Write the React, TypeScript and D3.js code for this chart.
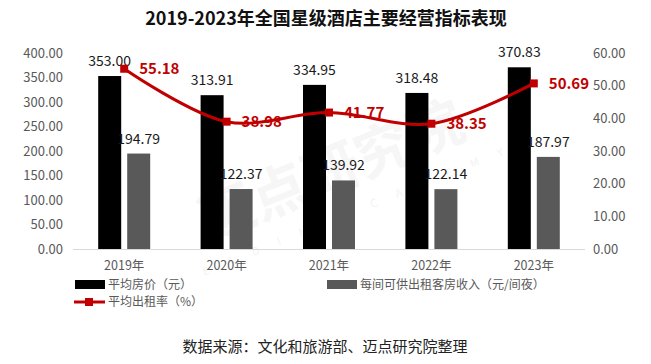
import React from 'react';
import * as d3 from 'd3';

// chart data
const years = ['2019年', '2020年', '2021年', '2022年', '2023年'];
const avgPrice = [353.0, 313.91, 334.95, 318.48, 370.83];
const revPar = [194.79, 122.37, 139.92, 122.14, 187.97];
const occupancy = [55.18, 38.98, 41.77, 38.35, 50.69];
const leftTicks = [0, 50, 100, 150, 200, 250, 300, 350, 400];
const rightTicks = [0, 10, 20, 30, 40, 50, 60];

const width = 651;
const height = 364;
const font = '"Noto Sans CJK SC", "Noto Sans", sans-serif';
const red = '#C00000';
const axisGray = '#595959';

const App = () => {
  const x = d3.scaleBand<string>().domain(years).range([73, 585]);
  const sub = d3
    .scaleBand<string>()
    .domain(['price', 'revpar'])
    .range([0, x.bandwidth()])
    .paddingInner(0.207)
    .paddingOuter(0.869);
  const yLeft = d3.scaleLinear().domain([0, 400]).range([249, 53]);
  const yRight = d3.scaleLinear().domain([0, 60]).range([249, 53]);
  const cx = (d: string) => (x(d) as number) + x.bandwidth() / 2;

  const line = d3
    .line<number>()
    .x((_, i) => cx(years[i]))
    .y((d) => yRight(d))
    .curve(d3.curveCatmullRom.alpha(0.5));

  return (
    <svg
      width={width}
      height={height}
      style={{ position: 'absolute', left: 0, top: 0, background: '#fff' }}
      fontFamily={font}
    >
      {/* watermark */}
      <g transform="translate(335,180) rotate(-22)" opacity={0.45}>
        <text textAnchor="middle" fontSize={56} fontWeight="bold" fill="#ececec" y={10}>
          迈点研究院
        </text>
        <text textAnchor="middle" fontSize={11} fill="#e6e6e6" y={40} letterSpacing={20}>
          MEADIN ACADEMY
        </text>
      </g>

      <text x={326} y={25} textAnchor="middle" fontSize={18} fontWeight="bold" fill="#111">
        2019-2023年全国星级酒店主要经营指标表现
      </text>

      {/* left axis */}
      {leftTicks.map((t) => (
        <text key={t} x={63} y={yLeft(t)} dy="0.35em" textAnchor="end" fontSize={13} fill={axisGray}>
          {t.toFixed(2)}
        </text>
      ))}
      {/* right axis */}
      {rightTicks.map((t) => (
        <text key={t} x={593} y={yRight(t)} dy="0.35em" fontSize={13} fill={axisGray}>
          {t.toFixed(2)}
        </text>
      ))}

      <line x1={73} x2={585} y1={249.5} y2={249.5} stroke="#d9d9d9" />

      {/* bars */}
      {years.map((yr, i) => {
        const bx = (x(yr) as number) + (sub('price') as number);
        const gx = (x(yr) as number) + (sub('revpar') as number);
        return (
          <g key={yr}>
            <rect x={bx} y={yLeft(avgPrice[i])} width={sub.bandwidth()} height={yLeft(0) - yLeft(avgPrice[i])} fill="#000" />
            <rect x={gx} y={yLeft(revPar[i])} width={sub.bandwidth()} height={yLeft(0) - yLeft(revPar[i])} fill="#595959" />
            <text x={bx + sub.bandwidth() / 2} y={yLeft(avgPrice[i]) - 10} textAnchor="middle" fontSize={14} fill="#1a1a1a">
              {avgPrice[i].toFixed(2)}
            </text>
            <text x={gx + sub.bandwidth() / 2} y={yLeft(revPar[i]) - 10} textAnchor="middle" fontSize={14} fill="#1a1a1a">
              {revPar[i].toFixed(2)}
            </text>
            <text x={cx(yr)} y={266} dy="0.35em" textAnchor="middle" fontSize={12.5} fill={axisGray}>
              {yr}
            </text>
          </g>
        );
      })}

      {/* occupancy line */}
      <path d={line(occupancy) as string} fill="none" stroke={red} strokeWidth={3} />
      {occupancy.map((v, i) => (
        <g key={i}>
          <rect x={cx(years[i]) - 4} y={yRight(v) - 4} width={8} height={8} fill={red} />
          <text x={cx(years[i]) + 15} y={yRight(v)} dy="0.35em" fontSize={15} fontWeight="bold" fill={red}>
            {v.toFixed(2)}
          </text>
        </g>
      ))}

      {/* legend */}
      <rect x={75} y={280} width={30} height={9} fill="#000" />
      <text x={108} y={285} dy="0.35em" fontSize={12} fill={axisGray}>平均房价（元）</text>
      <rect x={327} y={280} width={30} height={9} fill="#595959" />
      <text x={360} y={285} dy="0.35em" fontSize={12} fill={axisGray}>每间可供出租客房收入（元/间夜）</text>
      <line x1={74} x2={105} y1={302} y2={302} stroke={red} strokeWidth={3} />
      <rect x={85} y={298} width={8} height={8} fill={red} />
      <text x={108} y={302} dy="0.35em" fontSize={12} fill={axisGray}>平均出租率（%）</text>

      <text x={325} y={347} dy="0.35em" textAnchor="middle" fontSize={15} fill="#222">
        数据来源：文化和旅游部、迈点研究院整理
      </text>
    </svg>
  );
};

export default App;
